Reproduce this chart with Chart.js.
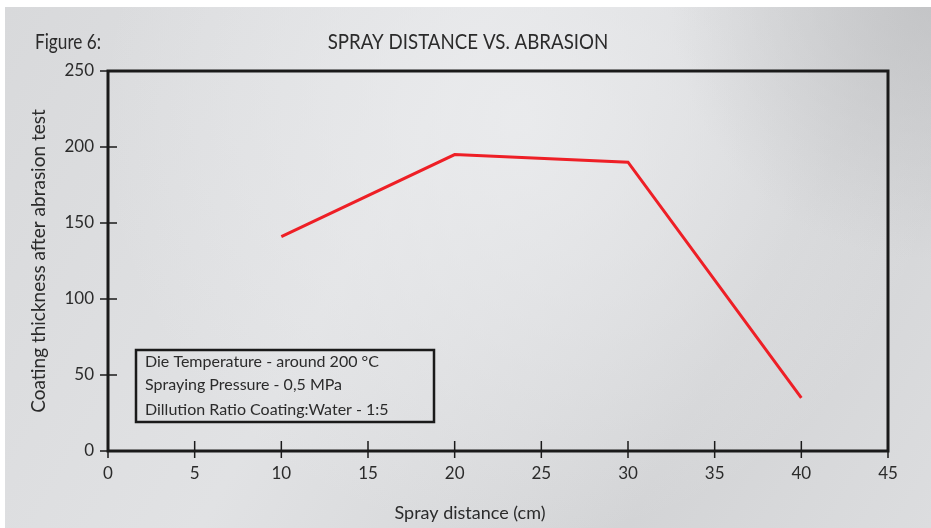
<!DOCTYPE html>
<html>
<head>
<meta charset="utf-8">
<script src="https://cdn.jsdelivr.net/npm/chart.js@4.4.1/dist/chart.umd.min.js"></script>
<style>
  html, body { margin: 0; padding: 0; background: #fff; }
  #wrap { width: 931px; height: 528px; }
</style>
</head>
<body>
<div id="wrap"><canvas id="chart" width="931" height="528"></canvas></div>
<script>
// data
const distances = [10, 20, 30, 40];
const thickness = [141, 195, 190, 35];
const figureLabel = 'Figure 6:';
const chartTitle = 'SPRAY DISTANCE VS. ABRASION';
const xTitle = 'Spray distance (cm)';
const yTitle = 'Coating thickness after abrasion test';
const noteLines = [
    'Die Temperature - around 200 °C',
    'Spraying Pressure - 0,5 MPa',
    'Dillution Ratio Coating:Water - 1:5'
];

const FONT = 'Lato, "Open Sans", sans-serif';
const INK = '#2b2b2b';

// texte condensé (la police d'origine est étroite)
function narrowText(ctx, text, x, y, size, squeeze, align) {
    ctx.save();
    ctx.font = size + 'px ' + FONT;
    ctx.textAlign = align;
    ctx.textBaseline = 'middle';
    ctx.translate(x, y);
    ctx.scale(squeeze, 1);
    ctx.fillText(text, 0, 0);
    ctx.restore();
}

/* ---------- fond + cadre + annotations ---------- */
const decorPlugin = {
    id: 'decor',
    beforeDraw(chart) {
        const { ctx, width, height } = chart;
        ctx.save();
        ctx.fillStyle = '#ffffff';
        ctx.fillRect(0, 0, width, height);
        const lg = ctx.createLinearGradient(5, 7, width, height);
        lg.addColorStop(0, '#d8d9db');
        lg.addColorStop(0.4, '#e1e2e4');
        lg.addColorStop(0.75, '#d3d4d6');
        lg.addColorStop(1, '#dcdddf');
        ctx.fillStyle = lg;
        ctx.fillRect(5, 7, width - 5, height - 7);
        const rg = ctx.createRadialGradient(520, 120, 10, 520, 120, 420);
        rg.addColorStop(0, 'rgba(236,237,239,0.8)');
        rg.addColorStop(1, 'rgba(236,237,239,0)');
        ctx.fillStyle = rg;
        ctx.fillRect(5, 7, width - 5, height - 7);
        const tr = ctx.createRadialGradient(width, 0, 10, width, 0, 260);
        tr.addColorStop(0, 'rgba(190,191,193,0.7)');
        tr.addColorStop(1, 'rgba(190,191,193,0)');
        ctx.fillStyle = tr;
        ctx.fillRect(5, 7, width - 5, height - 7);
        ctx.restore();
    },
    afterDraw(chart) {
        const { ctx, chartArea: a, scales } = chart;
        ctx.save();
        // cadre
        ctx.strokeStyle = '#1a1a1a';
        ctx.lineWidth = 3;
        ctx.strokeRect(a.left, a.top, a.right - a.left, a.bottom - a.top);
        // graduations qui traversent les axes
        ctx.lineWidth = 1.5;
        scales.x.ticks.forEach(t => {
            const px = scales.x.getPixelForValue(t.value);
            ctx.beginPath();
            ctx.moveTo(px, t.value === 0 || t.value === 45 ? a.bottom : a.bottom - 10);
            ctx.lineTo(px, a.bottom + 7);
            ctx.stroke();
        });
        scales.y.ticks.forEach(t => {
            const py = scales.y.getPixelForValue(t.value);
            ctx.beginPath();
            ctx.moveTo(a.left - 8, py);
            ctx.lineTo(t.value === 0 || t.value === 250 ? a.left : a.left + 9, py);
            ctx.stroke();
        });
        // textes du haut et titre X
        ctx.fillStyle = INK;
        narrowText(ctx, figureLabel, 35, 42, 21, 0.82, 'left');
        narrowText(ctx, chartTitle, 468, 42, 22, 0.85, 'center');
        ctx.font = '18px ' + FONT;
        ctx.textAlign = 'center';
        ctx.textBaseline = 'middle';
        ctx.fillText(xTitle, 470, 513);
        // encadré
        ctx.lineWidth = 2.5;
        ctx.strokeRect(136, 350, 298, 72);
        ctx.font = '16px ' + FONT;
        ctx.textAlign = 'left';
        [362, 385, 410].forEach((y, i) => ctx.fillText(noteLines[i], 145, y));
        ctx.restore();
    }
};

new Chart(document.getElementById('chart'), {
    type: 'scatter',
    data: {
        datasets: [{
            data: distances.map((d, i) => ({ x: d, y: thickness[i] })),
            showLine: true,
            borderColor: '#ee1f26',
            borderWidth: 3,
            pointRadius: 0,
            pointHoverRadius: 0,
            tension: 0
        }]
    },
    options: {
        responsive: false,
        animation: false,
        layout: { padding: { top: 71, right: 43, left: 0, bottom: 0 } },
        plugins: { legend: { display: false }, tooltip: { enabled: false } },
        scales: {
            x: {
                type: 'linear', min: 0, max: 45,
                afterFit: s => { s.height = 77; },
                ticks: { stepSize: 5, padding: 12, color: INK, font: { family: FONT, size: 17 } },
                grid: { display: false, drawTicks: false },
                border: { display: false },
                title: { display: false }
            },
            y: {
                type: 'linear', min: 0, max: 250,
                afterFit: s => { s.width = 108; },
                ticks: { stepSize: 50, padding: 14, color: INK, font: { family: FONT, size: 17 } },
                grid: { display: false, drawTicks: false },
                border: { display: false },
                title: { display: true, text: yTitle, color: INK, padding: { top: 27, bottom: 0 }, font: { family: FONT, size: 19 } }
            }
        }
    },
    plugins: [decorPlugin]
});
</script>
</body>
</html>
